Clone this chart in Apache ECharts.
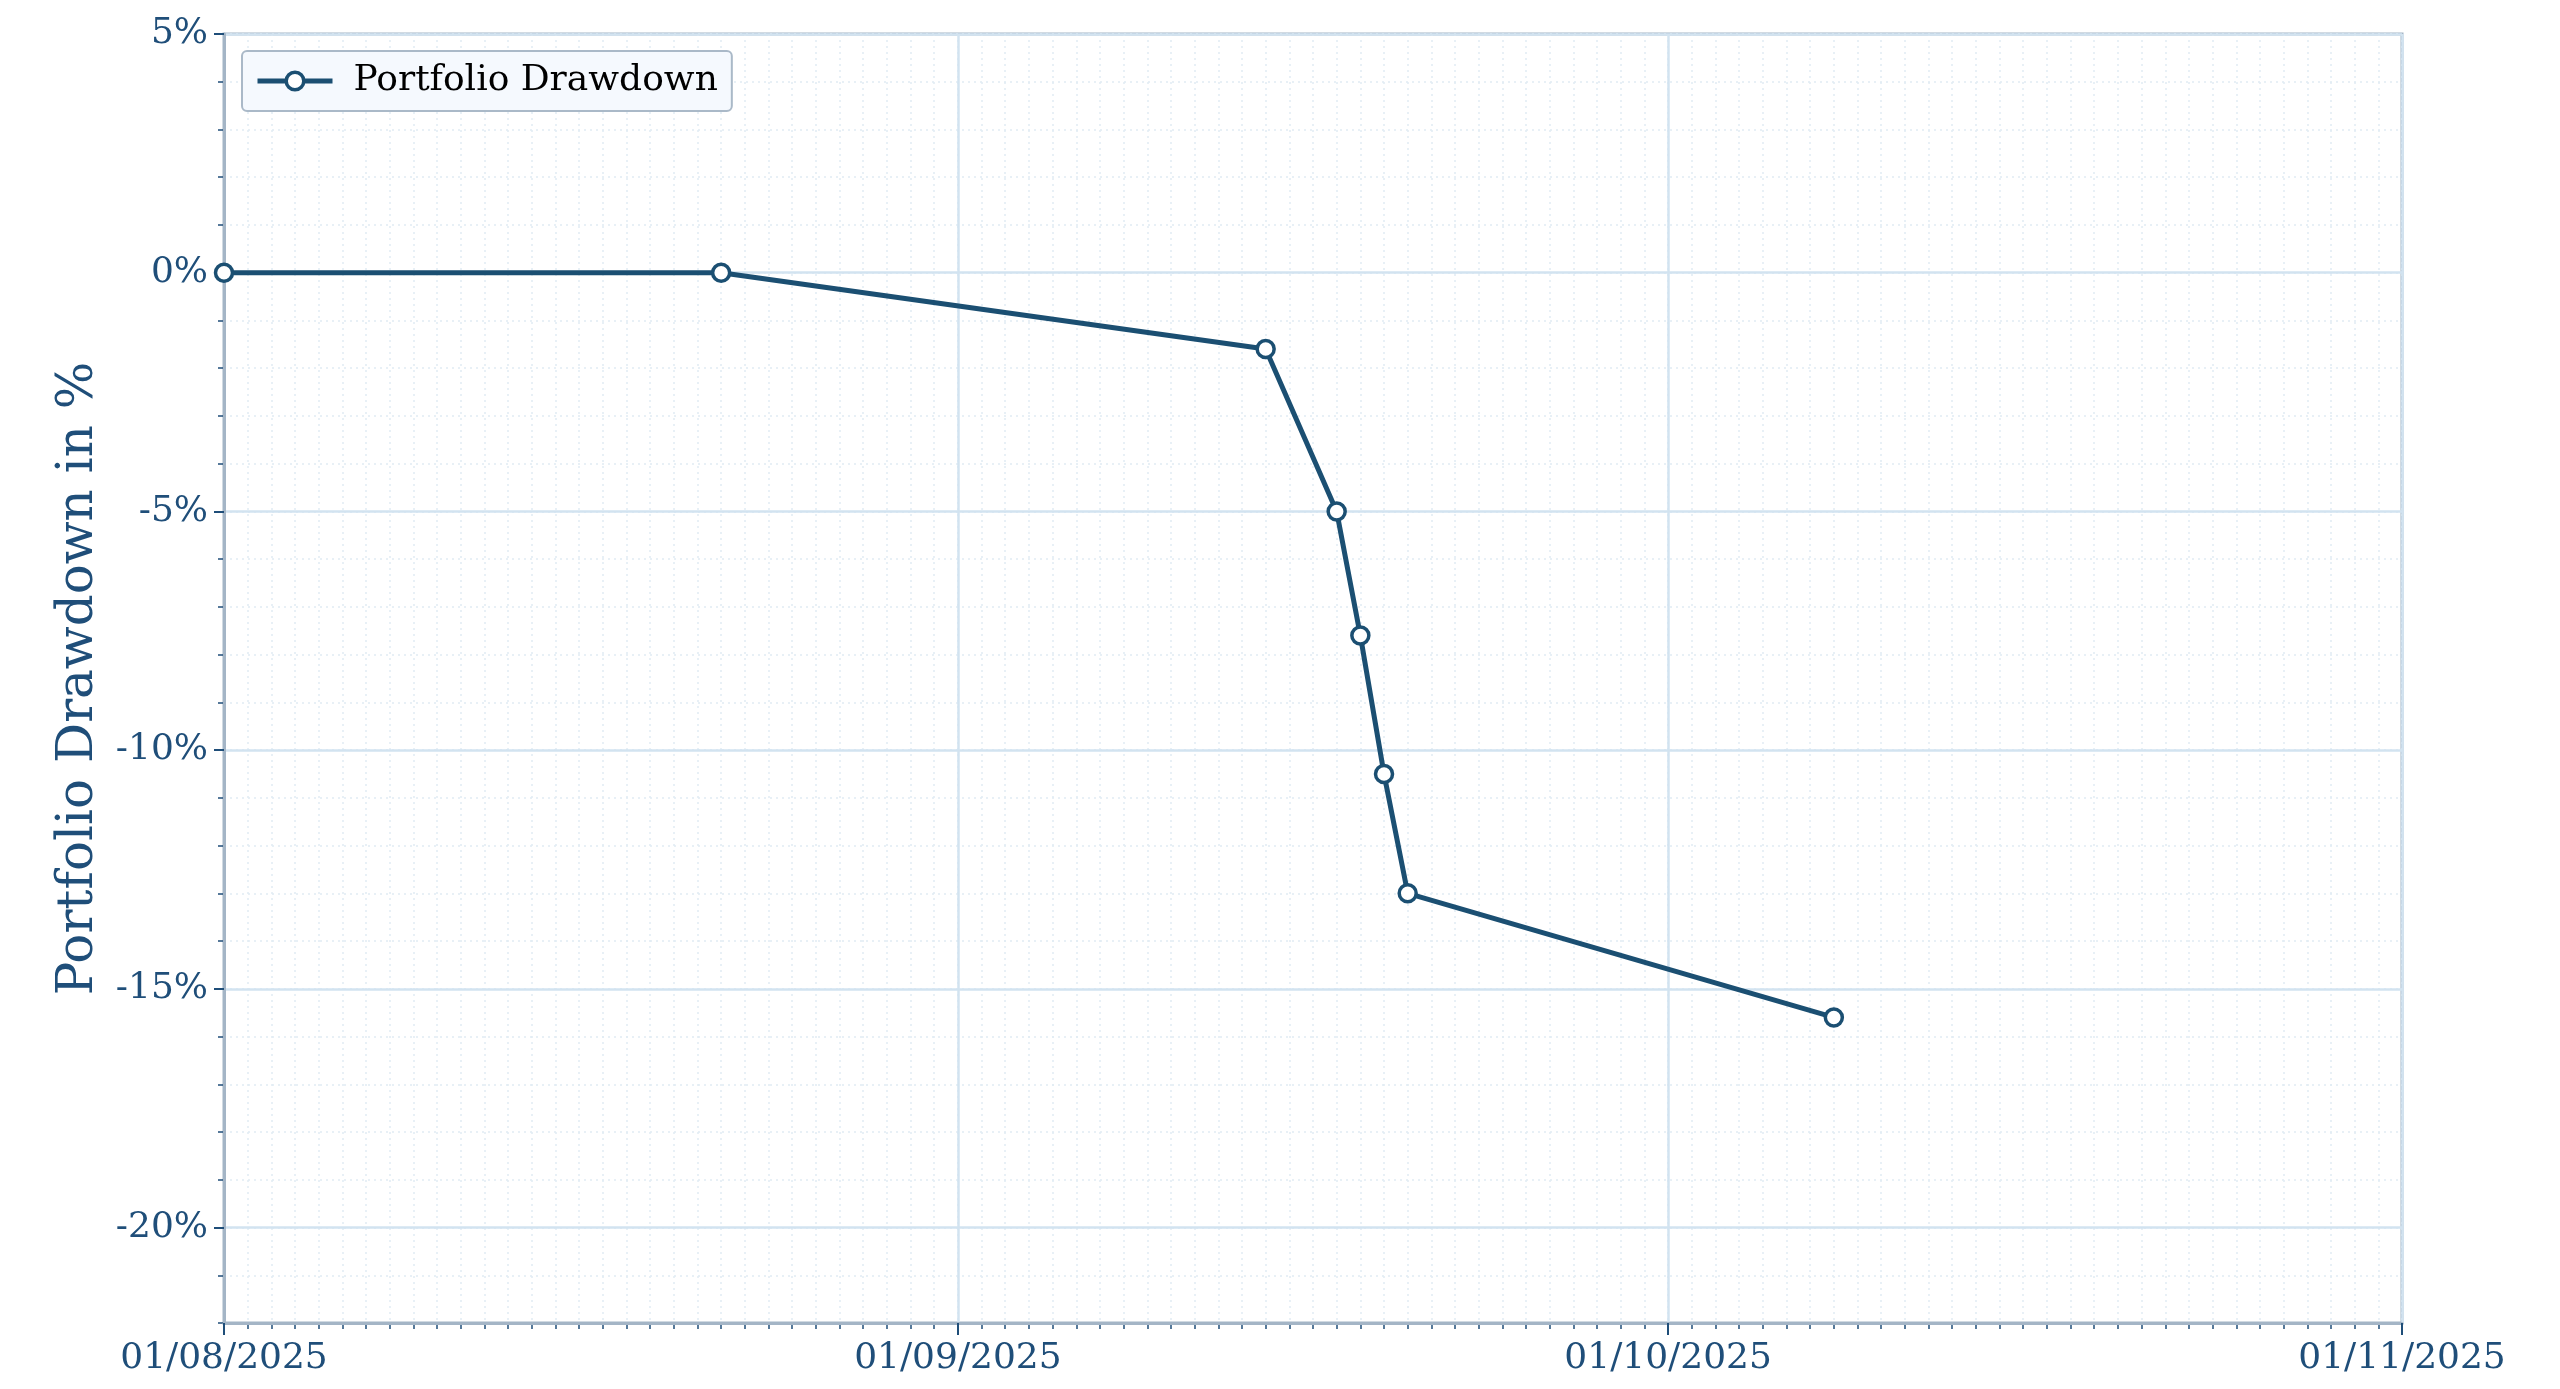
<!DOCTYPE html>
<html>
<head>
<meta charset="utf-8">
<script src="https://cdn.jsdelivr.net/npm/echarts@6/dist/echarts.min.js"></script>
<style>
html,body{margin:0;padding:0;background:#fff;}
#chart{width:2560px;height:1389px;}
</style>
</head>
<body>
<div id="chart"></div>
<script>
// ---- data ----
const dates = ['2025-08-01','2025-08-22','2025-09-14','2025-09-17','2025-09-18','2025-09-19','2025-09-20','2025-10-08'];
const drawdown = [0, 0, -1.6, -5.0, -7.6, -10.5, -13.0, -15.6];
const yTickValues = [-20, -15, -10, -5, 0, 5];
const xTickDates = ['2025-08-01','2025-09-01','2025-10-01','2025-11-01'];
const seriesName = 'Portfolio Drawdown';
const yAxisName = 'Portfolio Drawdown in %';

function ts(s){ const p = s.split('-').map(Number); return Date.UTC(p[0], p[1]-1, p[2]); }
const xMin = ts(xTickDates[0]);
const xMax = ts(xTickDates[xTickDates.length-1]);
const totalDays = Math.round((xMax - xMin) / 86400000);
const pad = n => (n < 10 ? '0' : '') + n;

const FONT = 'DejaVu Serif';
const LINE = '#1b4f72';
const TXT = '#1f4e79';
const FRAME = '#a4b5c6';
const MAJOR = '#d2e3f0';
const MINOR = '#e1ebf4';

const chart = echarts.init(document.getElementById('chart'), null, {renderer:'canvas'});
chart.setOption({
  animation: false,
  backgroundColor: '#ffffff',
  textStyle: {fontFamily: FONT},
  grid: {left: 224, right: 158, top: 34, bottom: 66, show: true, borderColor: FRAME, borderWidth: 3, backgroundColor: 'transparent'},
  legend: {
    left: 242, top: 51,
    data: [seriesName],
    padding: [11, 14, 11, 13],
    itemWidth: 75, itemHeight: 22, itemGap: 10,
    backgroundColor: '#f5f9fe',
    borderColor: '#aab9c8', borderWidth: 2, borderRadius: 5,
    lineStyle: {width: 5, color: LINE},
    itemStyle: {color: '#ffffff', borderColor: LINE, borderWidth: 3.5},
    textStyle: {fontFamily: FONT, fontSize: 36, color: '#000', padding: [0,0,0,16], lineHeight: 38}
  },
  xAxis: [
    {
      type: 'value', min: xMin, max: xMax, position: 'bottom', z: 3,
      axisLine: {show: true, onZero: false, lineStyle: {color: FRAME, width: 3}},
      axisTick: {show: true, length: 12, lineStyle: {color: TXT, width: 2}, customValues: xTickDates.map(ts)},
      axisLabel: {
        customValues: xTickDates.map(ts),
        fontFamily: FONT, fontSize: 36, color: TXT, margin: 18, showMinLabel: true, showMaxLabel: true,
        formatter: v => { const d = new Date(v); return pad(d.getUTCDate()) + '/' + pad(d.getUTCMonth()+1) + '/' + d.getUTCFullYear(); }
      },
      splitLine: {show: true, lineStyle: {color: MAJOR, width: 2.5, type: 'solid'}}
    },
    {
      type: 'value', min: 0, max: totalDays, interval: 1, position: 'bottom', z: 2,
      axisLine: {show: false, onZero: false},
      axisTick: {show: true, length: 6, lineStyle: {color: TXT, width: 1.5}},
      axisLabel: {show: false},
      splitLine: {show: true, lineStyle: {color: MINOR, width: 1.5, type: [2, 4]}}
    }
  ],
  yAxis: [
    {
      type: 'value', min: -22, max: 5, position: 'left', z: 3,
      name: yAxisName, nameLocation: 'middle', nameGap: 120,
      nameTextStyle: {fontFamily: FONT, fontSize: 50, color: TXT},
      axisLine: {show: true, onZero: false, lineStyle: {color: FRAME, width: 3}},
      axisTick: {show: true, length: 10, lineStyle: {color: TXT, width: 2}, customValues: yTickValues},
      axisLabel: {customValues: yTickValues, fontFamily: FONT, fontSize: 36, color: TXT, margin: 16, formatter: v => v + '%'},
      splitLine: {show: true, lineStyle: {color: MAJOR, width: 2.5, type: 'solid'}}
    },
    {
      type: 'value', min: -22, max: 5, interval: 1, position: 'left', z: 2,
      axisLine: {show: false, onZero: false},
      axisTick: {show: true, length: 6, lineStyle: {color: TXT, width: 1.5}},
      axisLabel: {show: false},
      splitLine: {show: true, lineStyle: {color: MINOR, width: 1.5, type: [2, 4]}}
    }
  ],
  series: [{
    name: seriesName, type: 'line',
    xAxisIndex: 0, yAxisIndex: 0,
    data: dates.map((d, i) => [ts(d), drawdown[i]]),
    symbol: 'circle', symbolSize: 17, showSymbol: true, clip: false,
    lineStyle: {color: LINE, width: 5},
    itemStyle: {color: '#ffffff', borderColor: LINE, borderWidth: 3.5},
    z: 10
  }]
});
</script>
</body>
</html>
